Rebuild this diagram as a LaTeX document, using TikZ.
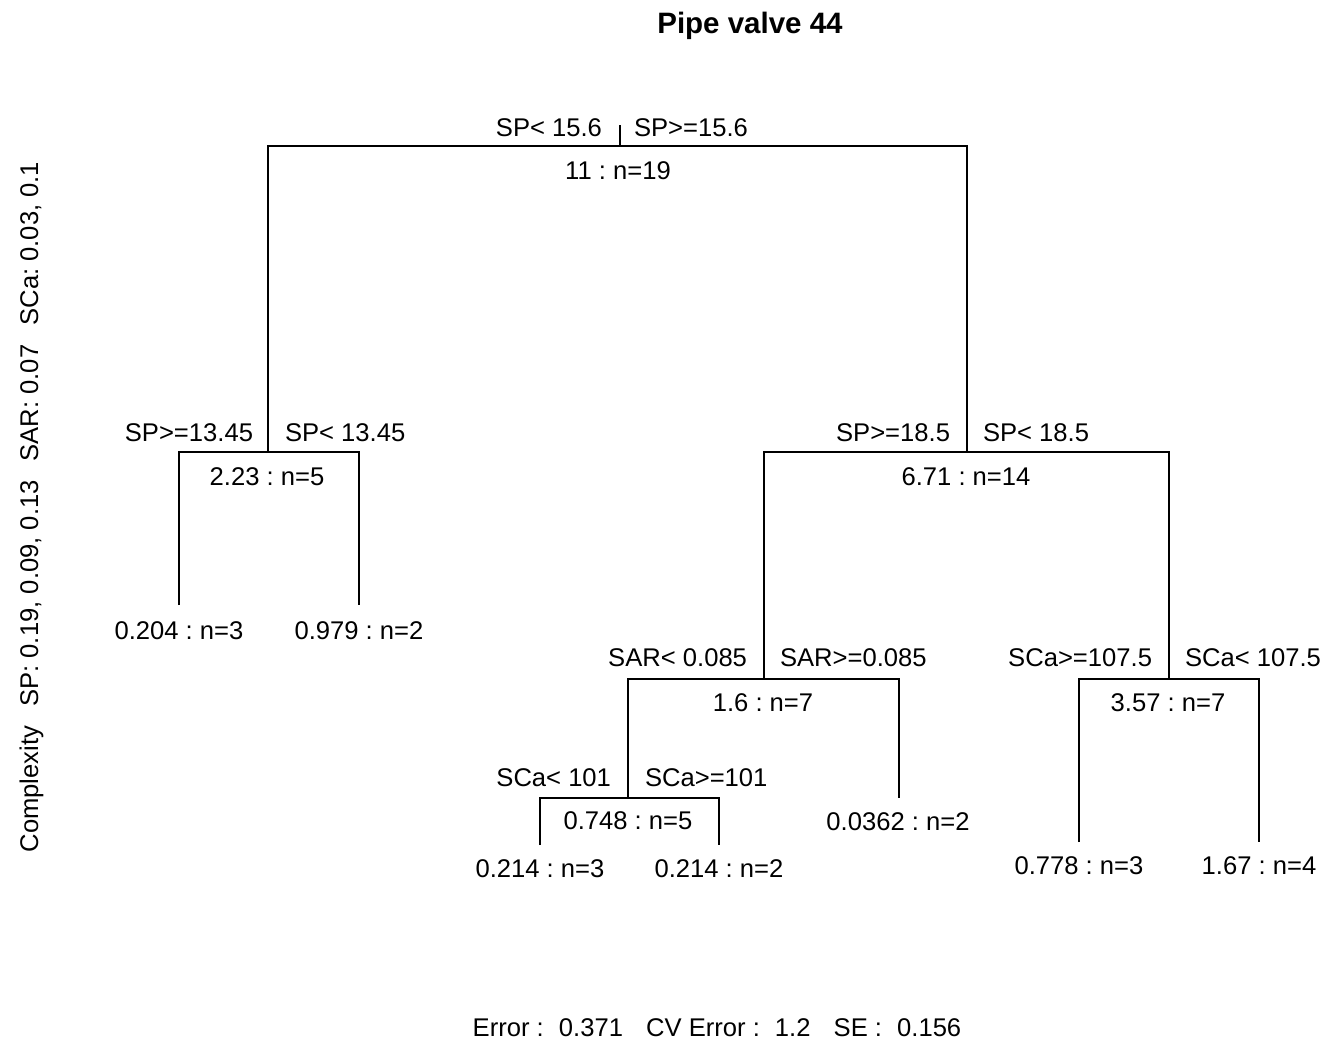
\documentclass[tikz,border=0pt]{standalone}
\usepackage{fontspec}
\setmainfont{Liberation Sans}
\begin{document}
\frenchspacing
\begin{tikzpicture}[x=1pt,y=-1pt,
  lbl/.style={inner sep=0pt,outer sep=0pt,font=\fontsize{25.6}{30}\selectfont,text height=18.3pt,text depth=0pt},
  branch/.style={line width=1.3pt,black}]
\useasboundingbox (0,0) rectangle (1328,1042);
% tree node positions
\coordinate (r0) at (620,125);
\coordinate (n1) at (620,146);
\coordinate (n2) at (268,452);
\coordinate (n3) at (967,452);
\coordinate (n4) at (179,605);
\coordinate (n5) at (359,605);
\coordinate (n6) at (764,679);
\coordinate (n7) at (1169,679);
\coordinate (n12) at (628,798);
\coordinate (n13) at (899,798);
\coordinate (n24) at (540,845);
\coordinate (n25) at (719,845);
\coordinate (n14) at (1079,842);
\coordinate (n15) at (1259,842);
% branches
\draw[branch] (r0) -- (n1);
\draw[branch] (n2) |- (n1) -| (n3);
\draw[branch] (n4) |- (n2) -| (n5);
\draw[branch] (n6) |- (n3) -| (n7);
\draw[branch] (n12) |- (n6) -| (n13);
\draw[branch] (n24) |- (n12) -| (n25);
\draw[branch] (n14) |- (n7) -| (n15);
% title
\node[inner sep=0pt,font=\fontsize{29.5}{34}\bfseries,text height=21pt,text depth=0pt] (title) at (750,23) {Pipe valve 44};
% split labels
\node[lbl,anchor=east] (s1l) at (602,127) {SP< 15.6};
\node[lbl,anchor=west] (s1r) at (634,127) {SP>=15.6};
\node[lbl] (v1) at (618,170) {11 : n=19};
\node[lbl,anchor=east] (s2l) at (253,432) {SP>=13.45};
\node[lbl,anchor=west] (s2r) at (285,432) {SP< 13.45};
\node[lbl] (v2) at (267,476) {2.23 : n=5};
\node[lbl,anchor=east] (s3l) at (950,432) {SP>=18.5};
\node[lbl,anchor=west] (s3r) at (983,432) {SP< 18.5};
\node[lbl] (v3) at (966,476) {6.71 : n=14};
\node[lbl,anchor=east] (s6l) at (747,657) {SAR< 0.085};
\node[lbl,anchor=west] (s6r) at (780,657) {SAR>=0.085};
\node[lbl] (v6) at (763,702) {1.6 : n=7};
\node[lbl,anchor=east] (s7l) at (1152,657) {SCa>=107.5};
\node[lbl,anchor=west] (s7r) at (1185,657) {SCa< 107.5};
\node[lbl] (v7) at (1168,702) {3.57 : n=7};
\node[lbl,anchor=east] (s12l) at (611,777) {SCa< 101};
\node[lbl,anchor=west] (s12r) at (645,777) {SCa>=101};
\node[lbl] (v12) at (628,820) {0.748 : n=5};
% leaves
\node[lbl] (l4) at (179,630) {0.204 : n=3};
\node[lbl] (l5) at (359,630) {0.979 : n=2};
\node[lbl] (l24) at (540,868) {0.214 : n=3};
\node[lbl] (l25) at (719,868) {0.214 : n=2};
\node[lbl] (l13) at (898,821) {0.0362 : n=2};
\node[lbl] (l14) at (1079,865) {0.778 : n=3};
\node[lbl] (l15) at (1259,865) {1.67 : n=4};
% margins
\node[lbl,rotate=90] (cp) at (29,507) {Complexity\hspace{12pt} SP: 0.19, 0.09, 0.13\hspace{12pt} SAR: 0.07\hspace{12pt} SCa: 0.03, 0.1};
\node[lbl] (err) at (717,1027) {Error :\hspace{8pt} 0.371\hspace{16pt} CV Error :\hspace{8pt} 1.2\hspace{16pt} SE :\hspace{8pt} 0.156};
\end{tikzpicture}
\end{document}
